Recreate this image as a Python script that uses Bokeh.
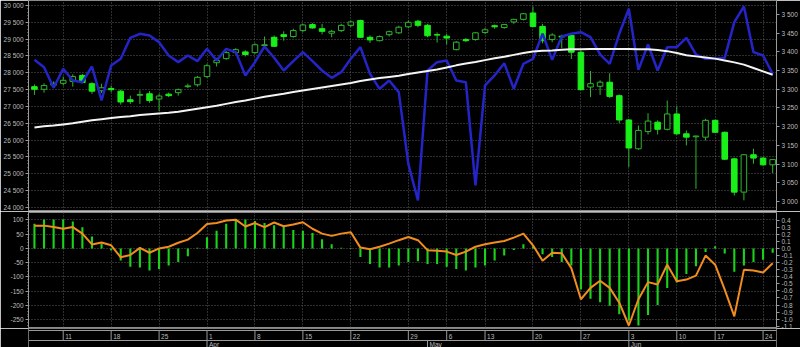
from bokeh.plotting import figure
from bokeh.models import (Range1d, LinearAxis, FixedTicker, Grid, Label, Span,
                          ColumnDataSource, PrintfTickFormatter)
from bokeh.layouts import column
from bokeh.embed import file_html
from bokeh.resources import INLINE
from bokeh.core.properties import value

# ---------------- data ----------------
opens = [3307, 3300, 3311, 3316, 3321, 3337, 3315, 3296, 3302, 3295,
         3272, 3284, 3288, 3274, 3287, 3291, 3307, 3312, 3334, 3371,
         3382, 3398, 3400, 3398, 3417, 3439, 3446, 3441, 3457, 3473,
         3462, 3450, 3457, 3471, 3484, 3439, 3430, 3446, 3451, 3467,
         3482, 3471, 3446, 3442, 3406, 3433, 3433, 3452, 3470, 3465,
         3480, 3487, 3504, 3468, 3433, 3442, 3444, 3399, 3306, 3308,
         3319, 3283, 3218, 3141, 3187, 3212, 3193, 3234, 3181, 3173,
         3172, 3217, 3185, 3114, 3025, 3125, 3116, 3098]
closes = [3300, 3310, 3316, 3324, 3334, 3318, 3295, 3304, 3299, 3266,
          3267, 3286, 3270, 3282, 3283, 3299, 3309, 3332, 3363, 3377,
          3398, 3406, 3393, 3419, 3419, 3415, 3441, 3457, 3472, 3464,
          3455, 3455, 3471, 3480, 3439, 3432, 3441, 3454, 3466, 3479,
          3471, 3443, 3445, 3437, 3426, 3430, 3451, 3459, 3467, 3473,
          3487, 3502, 3468, 3430, 3445, 3440, 3399, 3299, 3315, 3319,
          3281, 3218, 3143, 3190, 3215, 3193, 3234, 3181, 3172, 3175,
          3217, 3185, 3113, 3025, 3125, 3116, 3098, 3111.95]
highs = [3313, 3316, 3321, 3334, 3340, 3341, 3319, 3315, 3310, 3299,
         3283, 3297, 3295, 3288, 3291, 3302, 3315, 3336, 3368, 3384,
         3402, 3410, 3404, 3423, 3441, 3444, 3455, 3462, 3475, 3477,
         3475, 3459, 3475, 3484, 3486, 3444, 3444, 3457, 3470, 3484,
         3486, 3475, 3452, 3448, 3429, 3437, 3453, 3464, 3473, 3475,
         3488, 3504, 3521, 3475, 3450, 3446, 3448, 3404, 3349, 3324,
         3343, 3286, 3221, 3203, 3236, 3217, 3270, 3254, 3190, 3176,
         3221, 3219, 3187, 3117, 3126, 3141, 3119, 3112]
lows = [3285, 3291, 3304, 3310, 3307, 3316, 3288, 3290, 3292, 3259,
        3261, 3261, 3264, 3242, 3279, 3283, 3303, 3307, 3331, 3361,
        3379, 3393, 3388, 3395, 3413, 3413, 3430, 3438, 3453, 3462,
        3447, 3439, 3453, 3466, 3438, 3424, 3428, 3441, 3448, 3463,
        3466, 3439, 3425, 3420, 3404, 3426, 3430, 3448, 3462, 3462,
        3475, 3484, 3466, 3423, 3426, 3410, 3381, 3297, 3279, 3285,
        3277, 3209, 3092, 3138, 3179, 3179, 3190, 3178, 3150, 3034,
        3163, 3183, 3111, 3016, 3003, 3101, 3096, 3076]
moving_avg = [3198, 3201, 3203, 3206, 3209, 3213, 3217, 3220, 3223, 3226,
              3228, 3231, 3233, 3235, 3237, 3240, 3244, 3248, 3252, 3256,
              3261, 3266, 3270, 3275, 3280, 3284, 3288, 3293, 3297, 3301,
              3305, 3309, 3313, 3317, 3322, 3326, 3330, 3333, 3336, 3341,
              3345, 3349, 3353, 3358, 3364, 3369, 3373, 3378, 3383, 3387,
              3392, 3397, 3401, 3403, 3404, 3406, 3407, 3407, 3408, 3408,
              3408, 3408, 3408, 3407, 3407, 3405, 3402, 3397, 3391, 3388,
              3385, 3382, 3377, 3372, 3366, 3357, 3348, 3338.91]
blue_series = [28386, 28168, 27555, 28119, 27772, 27723, 28188, 27178, 28218, 28416,
               29040, 29159, 29109, 28911, 28515, 28317, 28515, 28347, 28713, 28367,
               28713, 28614, 27921, 28317, 28782, 28446, 28069, 28347, 28614, 28347,
               28069, 27852, 28020, 28416, 28762, 27971, 27525, 27772, 27426, 25297,
               24208, 28069, 28317, 28367, 27772, 27723, 24654, 27624, 27921, 28287,
               27525, 28268, 28416, 29159, 28386, 29079, 29159, 29208, 29060, 28545,
               28268, 29159, 29901, 28089, 28842, 28069, 28762, 28762, 29040, 28545,
               28416, 28416, 28446, 29505, 29970, 28614, 28515, 27970]
hist = [0.35, 0.41, 0.41, 0.41, 0.38, 0.30, 0.17, 0.07, -0.03, -0.17,
        -0.26, -0.27, -0.31, -0.29, -0.24, -0.19, -0.11, 0.01, 0.16, 0.25,
        0.35, 0.41, 0.41, 0.39, 0.36, 0.33, 0.33, 0.26, 0.25, 0.22,
        0.13, 0.06, 0.01, 0.005, -0.12, -0.22, -0.27, -0.27, -0.24, -0.19,
        -0.18, -0.22, -0.22, -0.26, -0.29, -0.31, -0.27, -0.24, -0.17, -0.10,
        -0.02, 0.06, 0.03, -0.08, -0.12, -0.19, -0.24, -0.58, -0.71, -0.76,
        -0.81, -0.93, -1.02, -1.09, -0.94, -0.80, -0.56, -0.48, -0.36, -0.25,
        -0.05, 0.03, -0.07, -0.33, -0.24, -0.19, -0.16, -0.06]
osc = [80, 80, 75, 69, 75, 52, 14, 21, 11, -31,
       -23, 2, -15, 0, 6, 20, 31, 54, 86, 89,
       98, 101, 77, 89, 75, 91, 78, 84, 92, 69,
       52, 44, 52, 57, 3, -3, 6, 17, 29, 40,
       29, -6, -8, -11, -23, -11, 6, 15, 21, 26,
       38, 52, 11, -43, -15, -17, -69, -178, -138, -113,
       -138, -190, -270, -178, -118, -126, -57, -115, -109, -95,
       -25, -57, -144, -238, -75, -77, -84, -52]

day_ticks = [3, 8, 13, 18, 23, 28, 33, 39, 43, 47, 52, 57, 62, 67, 71, 76]
day_labels = ["11", "18", "25", "1", "8", "15", "22", "29", "6", "13", "20", "27", "3", "10", "17", "24"]
month_ticks = [18, 41, 62]
month_labels = ["Apr", "May", "Jun"]

left_ticks = list(range(24000, 30001, 500))
right_ticks = list(range(3000, 3501, 50))
osc_ticks = list(range(-250, 101, 50))
hist_ticks = [v / 10 for v in range(-11, 5)]

# ---------------- style ----------------
FONT = "Liberation Sans"
FS = "6.5px"
TAG_FS = "5px"
GRID = "#5c5c5c"
AXC = "#9a9a9a"
LBL = "#bdbdbd"
FRAME = "#8a8a8a"
GREEN_FILL = "#19f019"
GREEN_LINE = "#2fb52f"

n = len(closes)
xs = list(range(n))
xr = Range1d(-0.62, 77.4)


def make_fig(h, yr, top, bottom, yloc="left"):
    p = figure(width=800, height=h, x_range=xr, y_range=yr, output_backend="svg",
               toolbar_location=None, title=None, x_axis_location=None,
               y_axis_location=yloc, min_border_left=25, min_border_right=24,
               min_border_top=top, min_border_bottom=bottom,
               background_fill_color="black", border_fill_color="black",
               outline_line_color=FRAME)
    p.grid.visible = False
    return p


def style_axis(ax):
    ax.axis_line_color = AXC
    ax.major_tick_line_color = AXC
    ax.minor_tick_line_color = AXC
    ax.major_tick_out = 3
    ax.major_tick_in = 0
    ax.minor_tick_out = 1
    ax.minor_tick_in = 0
    ax.major_label_text_color = LBL
    ax.major_label_text_font = FONT
    ax.major_label_text_font_size = FS
    ax.major_label_standoff = 2


def add_grids(p, yticks):
    p.add_layout(Grid(dimension=0, ticker=FixedTicker(ticks=day_ticks),
                      grid_line_color=GRID, grid_line_dash="1 2"), "center")
    p.add_layout(Grid(dimension=1, ticker=FixedTicker(ticks=yticks),
                      grid_line_color=GRID, grid_line_dash="1 2"), "center")


def tag(p, x, y, text, fill, line, color, align, x_offset, rng="default", size=TAG_FS):
    p.add_layout(Label(x=x, y=y, y_range_name=rng, text=text, x_offset=x_offset,
                       text_align=align, text_baseline="middle", text_font=FONT,
                       text_font_size=size, text_color=color,
                       background_fill_color=fill, border_line_color=line, padding=1))


def spaced(v, fmt):
    return format(v, fmt).replace(",", " ")


# ---------------- main panel ----------------
p1 = make_fig(211, Range1d(23911, 30148), 0, 1)
p1.extra_y_ranges = {"idx": Range1d(2975.9, 3537.4)}
add_grids(p1, left_ticks)

la = p1.yaxis[0]
la.ticker = FixedTicker(ticks=left_ticks, minor_ticks=list(range(24000, 30001, 100)))
la.major_label_overrides = {v: spaced(v, ",") for v in left_ticks}
style_axis(la)

ra = LinearAxis(y_range_name="idx", ticker=FixedTicker(ticks=right_ticks))
ra.major_label_overrides = {v: spaced(v, ",") for v in right_ticks}
style_axis(ra)
p1.add_layout(ra, "right")

is_up = [c >= o for o, c in zip(opens, closes)]
src = ColumnDataSource(dict(
    x=xs, h=highs, l=lows,
    top=[max(o, c) for o, c in zip(opens, closes)],
    bot=[min(o, c) for o, c in zip(opens, closes)],
    fill=["black" if u else GREEN_FILL for u in is_up],
    line=[GREEN_LINE if u else GREEN_FILL for u in is_up],
))
p1.segment(x0="x", y0="l", x1="x", y1="h", source=src, line_color=GREEN_LINE,
           line_width=1, y_range_name="idx")
p1.vbar(x="x", width=0.58, top="top", bottom="bot", fill_color="fill",
        line_color="line", line_width=1, source=src, y_range_name="idx")
p1.line(xs, blue_series, line_color="#2424c8", line_width=2.5)
p1.line(xs, moving_avg, line_color="#f4f4f4", line_width=2, y_range_name="idx")

tag(p1, xr.start, blue_series[-1], spaced(blue_series[-1], ","), "#1e1e7a", "#8a8ad8",
    "#d0d0ff", "right", -3, size=FS)
tag(p1, xr.end, moving_avg[-1], spaced(moving_avg[-1], ",.2f"), "black", "#e0e0e0",
    "#f0f0f0", "left", 2, "idx")
tag(p1, xr.end, closes[-1], spaced(closes[-1], ",.2f"), "black", "#30d030",
    "#40f040", "left", 2, "idx")

# ---------------- lower panel ----------------
p2 = make_fig(117, Range1d(-277, 126), 1, 1)
p2.extra_y_ranges = {"r": Range1d(-1.118, 0.509)}
add_grids(p2, osc_ticks)

la2 = p2.yaxis[0]
la2.ticker = FixedTicker(ticks=osc_ticks, minor_ticks=list(range(-270, 121, 10)))
la2.formatter = PrintfTickFormatter(format="%d")
style_axis(la2)

ra2 = LinearAxis(y_range_name="r", ticker=FixedTicker(ticks=hist_ticks),
                 formatter=PrintfTickFormatter(format="%.1f"))
style_axis(ra2)
p2.add_layout(ra2, "right")

p2.vbar(x=xs, top=hist, bottom=0, width=0.22, fill_color="#1bd21b",
        line_color=None, y_range_name="r")
p2.line(xs, osc, line_color="#f28c1e", line_width=2)
tag(p2, xr.end, hist[-1], format(hist[-1], ".2f"), "black", "#30d030", "#40f040",
    "left", 2, "r", size=FS)

# ---------------- date strip ----------------
p3 = figure(width=800, height=19, x_range=xr, y_range=Range1d(0, 19),
            output_backend="svg", toolbar_location=None, title=None,
            x_axis_location=None, y_axis_location=None,
            min_border_left=25, min_border_right=24, min_border_top=0,
            min_border_bottom=0, background_fill_color="black",
            border_fill_color="black", outline_line_color=None)
p3.grid.visible = False
for loc in (17, 7):
    p3.add_layout(Span(location=loc, dimension="width", line_color=AXC, line_width=1))
for loc in (xr.start, xr.end):
    p3.add_layout(Span(location=loc, dimension="height", line_color=AXC, line_width=1))
p3.segment(x0=day_ticks, y0=7, x1=day_ticks, y1=17, line_color=AXC, line_width=1)
p3.text(x=day_ticks, y=11.5, text=day_labels, x_offset=2, text_align="left",
        text_baseline="middle", text_font=value(FONT), text_font_size=FS,
        text_color=LBL)
p3.segment(x0=month_ticks, y0=0, x1=month_ticks, y1=7, line_color=AXC, line_width=1)
p3.text(x=month_ticks, y=3.3, text=month_labels, x_offset=2, text_align="left",
        text_baseline="middle", text_font=value(FONT), text_font_size=FS,
        text_color=LBL)

layout = column(p1, p2, p3, spacing=0)
open("out.html", "w").write(file_html(layout, INLINE))
